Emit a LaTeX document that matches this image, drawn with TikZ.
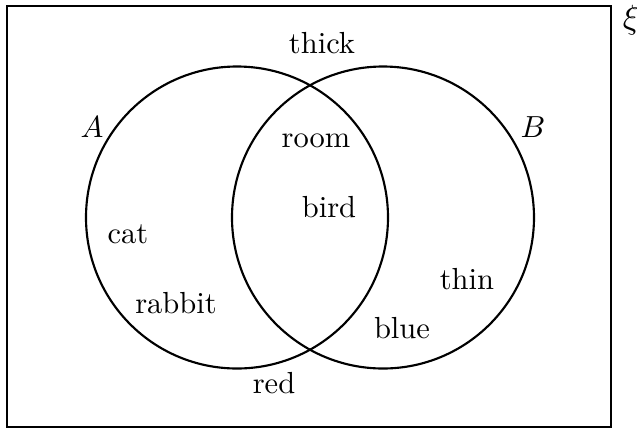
\documentclass[tikz,border=0pt]{standalone}
\begin{document}
\begin{tikzpicture}[x=0.328pt,y=-0.328pt,
  lbl/.style={anchor=base,inner sep=0pt},
  setc/.style={draw,line width=0.7pt},
  frame/.style={draw,line width=0.65pt}]
\useasboundingbox (0,0) rectangle (637,429);
\node[frame,rectangle,minimum width=604*0.328pt,minimum height=421*0.328pt,inner sep=0pt] (U) at (309,216.5) {};
\node[setc,circle,minimum size=302*0.328pt,inner sep=0pt] (CA) at (237,217.5) {};
\node[setc,circle,minimum size=302*0.328pt,inner sep=0pt] (CB) at (383,217.5) {};
\node[lbl,scale=1.1] (xi) at (631,28) {$\xi$};
\node[lbl] (A) at (92,137) {$A$};
\node[lbl] (B) at (533,137) {$B$};
\node[lbl] (thick) at (322,53) {thick};
\node[lbl] (room) at (316,147) {room};
\node[lbl] (bird) at (329,217) {bird};
\node[lbl] (cat) at (128,243) {cat};
\node[lbl] (rabbit) at (176,313) {rabbit};
\node[lbl] (thin) at (467,289) {thin};
\node[lbl] (blue) at (402,338) {blue};
\node[lbl] (red) at (274,393) {red};
\end{tikzpicture}
\end{document}
